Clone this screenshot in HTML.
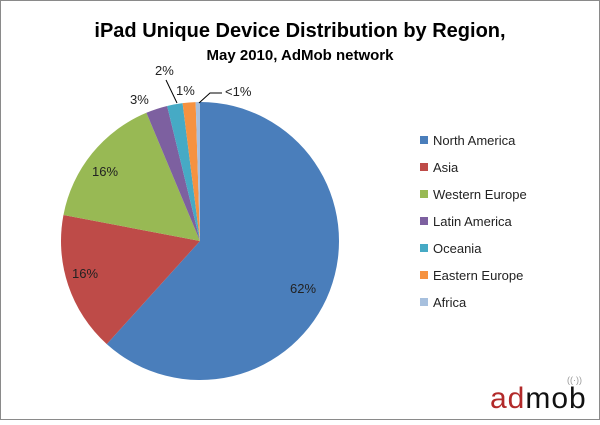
<!DOCTYPE html>
<html><head><meta charset="utf-8"><style>
html,body{margin:0;padding:0;background:#fff;}
body{width:600px;height:420px;overflow:hidden;font-family:"Liberation Sans","DejaVu Sans",sans-serif;}
</style></head><body>
<svg id="s" width="600" height="420" xmlns="http://www.w3.org/2000/svg" font-family="Liberation Sans, DejaVu Sans, sans-serif">
<rect x="0.5" y="0.5" width="599" height="419" fill="#fff" stroke="#8a8a8a"/>
<text x="300" y="37" text-anchor="middle" font-size="20" font-weight="bold" fill="#000">iPad Unique Device Distribution by Region,</text>
<text x="300" y="60" text-anchor="middle" font-size="15" font-weight="bold" fill="#000">May 2010, AdMob network</text>
<g id="pie"></g>
<g font-size="13" fill="#222">
<text x="290" y="293">62%</text>
<text x="72" y="278">16%</text>
<text x="92" y="176">16%</text>
<text x="130" y="104">3%</text>
<text x="155" y="75">2%</text>
<text x="176" y="95">1%</text>
<text x="225" y="96">&lt;1%</text>
</g>
<line x1="166" y1="80" x2="177" y2="103" stroke="#000" stroke-width="1"/>
<polyline points="199,103 210,93 222,93" fill="none" stroke="#000" stroke-width="1"/>
<g font-size="13" fill="#222">
<rect x="420" y="136" width="8" height="8" fill="#4a7ebb"/><text x="433" y="145">North America</text>
<rect x="420" y="163" width="8" height="8" fill="#be4b48"/><text x="433" y="172">Asia</text>
<rect x="420" y="190" width="8" height="8" fill="#98b954"/><text x="433" y="199">Western Europe</text>
<rect x="420" y="217" width="8" height="8" fill="#7d60a0"/><text x="433" y="226">Latin America</text>
<rect x="420" y="244" width="8" height="8" fill="#46aac5"/><text x="433" y="253">Oceania</text>
<rect x="420" y="271" width="8" height="8" fill="#f69240"/><text x="433" y="280">Eastern Europe</text>
<rect x="420" y="298" width="8" height="8" fill="#a7c0de"/><text x="433" y="307">Africa</text>
</g>
<text x="490" y="408" font-size="30" fill="#b22a2a" letter-spacing="1">ad<tspan fill="#111">mob</tspan></text>
<text x="567" y="383" font-size="9" fill="#999">((·))</text>
</svg>
<script>
var cx=200,cy=241,r=139;
var v=[[61.7,"#4a7ebb"],[16.3,"#be4b48"],[15.7,"#98b954"],[2.5,"#7d60a0"],[1.8,"#46aac5"],[1.5,"#f69240"],[0.5,"#a7c0de"]];
var a=0,g=document.getElementById("pie"),h="";
v.forEach(function(s){
 var a1=a+s[0]/100*2*Math.PI;
 var x0=cx+r*Math.sin(a),y0=cy-r*Math.cos(a),x1=cx+r*Math.sin(a1),y1=cy-r*Math.cos(a1);
 h+='<path d="M'+cx+','+cy+' L'+x0+','+y0+' A'+r+','+r+' 0 '+((a1-a)>Math.PI?1:0)+' 1 '+x1+','+y1+' Z" fill="'+s[1]+'"/>';
 a=a1;
});
g.innerHTML=h;
</script>
</body></html>
